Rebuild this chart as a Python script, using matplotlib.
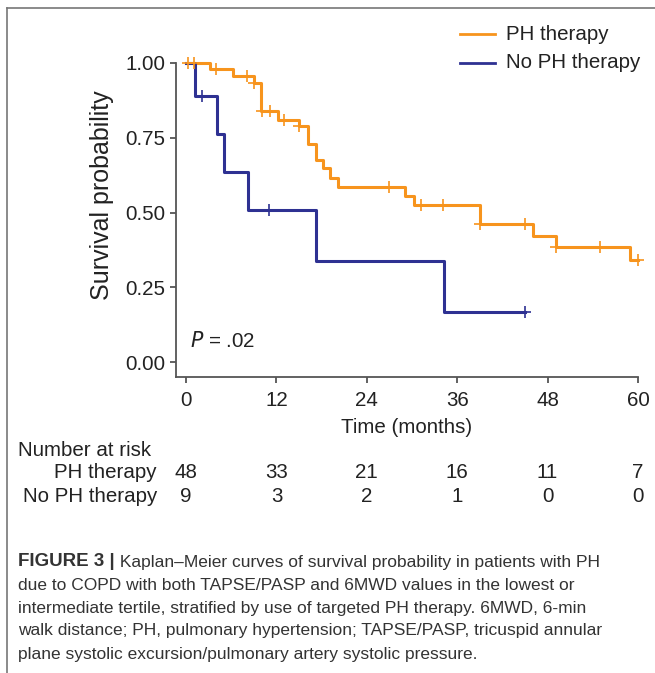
import matplotlib
matplotlib.use("Agg")
import matplotlib.pyplot as plt
from matplotlib.lines import Line2D
from matplotlib.transforms import blended_transform_factory, offset_copy

plt.rcParams['font.family'] = ['Liberation Sans', 'DejaVu Sans']

# step curves (time in months, survival after the drop)
ph_times = [0, 3.2, 6.2, 9.0, 10.0, 12.2, 15.0, 16.2, 17.3, 18.2, 19.1, 20.2,
            29.1, 30.2, 39.0, 46.1, 49.1, 59.0, 60.0]
ph_surv = [1.0, 0.979, 0.957, 0.932, 0.840, 0.810, 0.789, 0.728, 0.676, 0.649,
           0.616, 0.586, 0.556, 0.525, 0.461, 0.423, 0.385, 0.340, 0.340]
ph_censor_t = [0.2, 1.1, 4.0, 8.1, 9.0, 10.1, 11.2, 13.0, 15.0, 27.0, 31.2, 34.1,
               39.0, 45.0, 49.1, 55.0, 60.0]

no_times = [0, 1.2, 4.1, 5.1, 8.2, 17.3, 34.2, 45.0]
no_surv = [1.0, 0.889, 0.762, 0.635, 0.508, 0.339, 0.169, 0.169]
no_censor_t = [2.1, 11.0, 45.0]

risk_times = [0, 12, 24, 36, 48, 60]
risk_ph = [48, 33, 21, 16, 11, 7]
risk_no = [9, 3, 2, 1, 0, 0]

orange = '#F7941D'
navy = '#2E3192'
gray = '#555555'
txt = '#222222'
fs = 14.8


def surv_at(times, surv, t):
    s = surv[0]
    for ti, si in zip(times, surv):
        if ti <= t:
            s = si
    return s


fig = plt.figure(figsize=(6.55, 6.73), dpi=100)
ax = fig.add_axes([176 / 655, 1 - 377 / 673, (638 - 176) / 655, (377 - 63) / 673])

ax.step(ph_times, ph_surv, where='post', color=orange, lw=2.2, clip_on=False)
ax.step(no_times, no_surv, where='post', color=navy, lw=2.2, clip_on=False)
ax.plot(ph_censor_t, [surv_at(ph_times, ph_surv, t) for t in ph_censor_t],
        ls='none', marker='+', ms=8, mew=1.2, color=orange, clip_on=False)
ax.plot(no_censor_t, [surv_at(no_times, no_surv, t) for t in no_censor_t],
        ls='none', marker='+', ms=8, mew=1.2, color=navy, clip_on=False)

ax.set_xlim(-1.33, 60)
ax.set_ylim(-0.05, 1.0)
ax.set_xticks(risk_times)
ax.set_yticks([0, 0.25, 0.5, 0.75, 1.0])
ax.set_yticklabels(['0.00', '0.25', '0.50', '0.75', '1.00'])
for s in ['top', 'right']:
    ax.spines[s].set_visible(False)
for s in ['left', 'bottom']:
    ax.spines[s].set_color(gray)
    ax.spines[s].set_linewidth(1.3)
ax.tick_params(colors=gray, labelcolor=txt, labelsize=fs, length=4, width=1.3)
ax.tick_params(axis='x', pad=6)
ax.set_xlabel('Time (months)', fontsize=fs, color=txt, labelpad=6)
ax.set_ylabel('Survival probability', fontsize=18, color=txt)
ax.yaxis.set_label_coords(-0.135, 0.58)
ax.text(0.55, 0.07, '$P$ = .02', fontsize=fs, color=txt, va='center')

# legend drawn by hand at the top right
fig.add_artist(Line2D([460 / 655, 495 / 655], [1 - 34 / 673] * 2, color=orange, lw=2))
fig.add_artist(Line2D([460 / 655, 495 / 655], [1 - 63 / 673] * 2, color=navy, lw=2))
fig.text(506 / 655, 1 - 34 / 673, 'PH therapy', fontsize=fs, va='center', color=txt)
fig.text(506 / 655, 1 - 63 / 673, 'No PH therapy', fontsize=fs, va='center', color=txt)

# number at risk table
tr = blended_transform_factory(ax.transData, fig.transFigure)
fig.text(18 / 655, 1 - 450 / 673, 'Number at risk', fontsize=fs, va='center', color=txt)
fig.text(157 / 655, 1 - 473 / 673, 'PH therapy', fontsize=fs, va='center', ha='right', color=txt)
fig.text(157 / 655, 1 - 497 / 673, 'No PH therapy', fontsize=fs, va='center', ha='right', color=txt)
for t, a, b in zip(risk_times, risk_ph, risk_no):
    fig.text(t, 1 - 473 / 673, str(a), transform=tr, fontsize=fs, ha='center', va='center', color=txt)
    fig.text(t, 1 - 497 / 673, str(b), transform=tr, fontsize=fs, ha='center', va='center', color=txt)

# frame lines of the figure panel
fig.add_artist(Line2D([7 / 655, 7 / 655], [0, 1 - 8 / 673], color='#777777', lw=1.2))
fig.add_artist(Line2D([7 / 655, 1], [1 - 8 / 673] * 2, color='#777777', lw=1.2))

caption = [
    'due to COPD with both TAPSE/PASP and 6MWD values in the lowest or',
    'intermediate tertile, stratified by use of targeted PH therapy. 6MWD, 6-min',
    'walk distance; PH, pulmonary hypertension; TAPSE/PASP, tricuspid annular',
    'plane systolic excursion/pulmonary artery systolic pressure.',
]
cap_x = 18 / 655
cfs = 12.5
head = fig.text(cap_x, 1 - 562 / 673, 'FIGURE 3 |', fontsize=13.5, fontweight='bold',
                va='center', color='#333333')
renderer = fig.canvas.get_renderer()
bb = head.get_window_extent(renderer)
fig.text(0, 1 - 562 / 673, ' Kaplan–Meier curves of survival probability in patients with PH',
         transform=offset_copy(fig.transFigure, fig=fig, x=bb.x1, y=0, units='dots'),
         fontsize=cfs, va='center', color='#333333')
for i, line in enumerate(caption):
    fig.text(cap_x, 1 - (585 + 23 * i) / 673, line, fontsize=cfs, va='center', color='#333333')

fig.savefig('out.png', dpi=100)
